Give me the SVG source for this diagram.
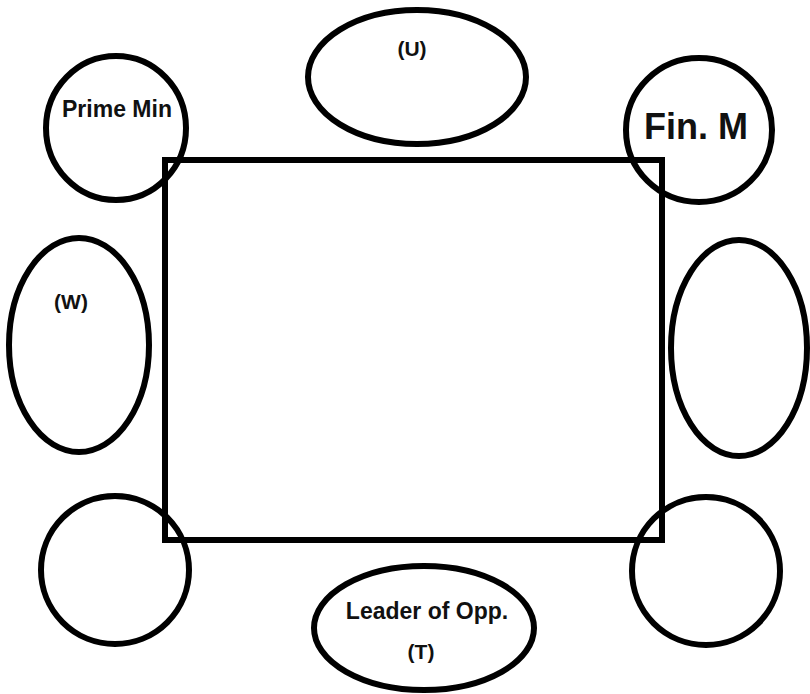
<svg xmlns="http://www.w3.org/2000/svg" width="810" height="694" viewBox="0 0 810 694">
<style>
.s{fill:none;stroke:#000;stroke-width:6}
.t{font-family:"Liberation Sans",Arial,sans-serif;font-weight:bold;fill:#111;text-anchor:middle}
</style>
<rect width="810" height="694" fill="#fff"/>
<g id="table"><rect class="s" x="165" y="160" width="497" height="380"/></g>
<g id="prime-min"><ellipse class="s" cx="116" cy="128" rx="70" ry="72"/><text class="t" x="117" y="117" font-size="23">Prime Min</text></g>
<g id="u"><ellipse class="s" cx="417" cy="77" rx="109" ry="67"/><text class="t" x="412" y="56" font-size="21">(U)</text></g>
<g id="fin-m"><ellipse class="s" cx="699" cy="130" rx="73" ry="72"/><text class="t" x="696" y="139" font-size="36">Fin. M</text></g>
<g id="w"><ellipse class="s" cx="79" cy="345" rx="70" ry="107"/><text class="t" x="71" y="309" font-size="21">(W)</text></g>
<g id="right"><ellipse class="s" cx="739" cy="348" rx="68" ry="108"/></g>
<g id="bottom-left"><ellipse class="s" cx="115" cy="570" rx="74" ry="74"/></g>
<g id="bottom-right"><ellipse class="s" cx="706" cy="571" rx="74" ry="74"/></g>
<g id="leader"><ellipse class="s" cx="424" cy="628" rx="110" ry="62"/><text class="t" x="427" y="619" font-size="23">Leader of Opp.</text><text class="t" x="421" y="659" font-size="21" font-weight="normal">(T)</text></g>
<g id="connectors"/>
</svg>
